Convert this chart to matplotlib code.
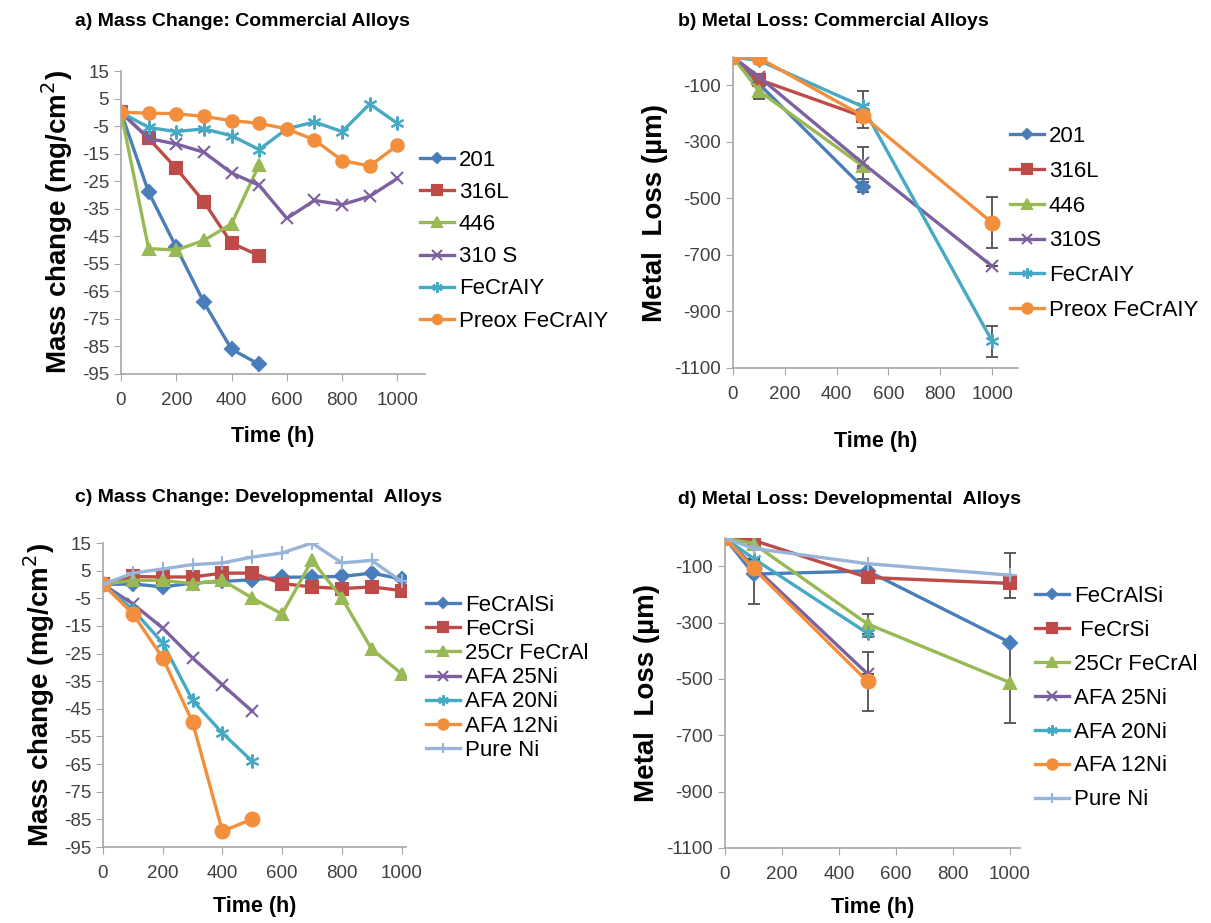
import matplotlib
matplotlib.use('Agg')
import matplotlib.pyplot as plt

plt.rcParams['font.family'] = ['Liberation Sans', 'DejaVu Sans']
plt.rcParams['axes.unicode_minus'] = False

# couleurs style Excel
BLUE = '#4A7EBB'
RED = '#BE4B48'
GREEN = '#98B954'
PURPLE = '#7D60A0'
TEAL = '#46AAC5'
ORANGE = '#F38F3C'
LIGHTBLUE = '#98B4D9'
ASTER = (6, 2, 0)

# a) mass change, commercial alloys
t_a = [0, 100, 200, 300, 400, 500, 600, 700, 800, 900, 1000]
a_201 = [0, -29, -49, -69, -86, -91.5]
a_316L = [0, -9.5, -20.3, -32.5, -47.5, -52]
a_446 = [0, -49.5, -50, -46.5, -40.5, -19]
a_310S = [0, -9.5, -11.5, -14.5, -22, -26.5, -38.5, -32, -33.5, -30.5, -24]
a_fecraly = [0, -5.5, -7, -6, -8.5, -13.5, -6, -3.5, -7, 3, -4]
a_preox = [0, -0.3, -0.5, -1.5, -3, -4, -6, -10, -17.5, -19.5, -12]

# b) metal loss, commercial alloys
t_b = [0, 100, 500, 1000]
b_201 = [0, -95, -460]
b_316L = [0, -80, -210]
b_446 = [0, -120, -385]
b_310S = [0, -70, -375, -740]
b_fecraly = [0, -12, -175, -1005]
b_preox = [0, -3, -208, -586]
b_201_err = [0, 0, 18]
b_316L_err = [0, 0, 40]
b_446_err = [0, 30, 0]
b_310S_err = [0, 0, 55, 0]
b_fecraly_err = [0, 0, 55, 55]
b_preox_err = [0, 0, 0, 90]

# c) mass change, developmental alloys
t_c = [0, 100, 200, 300, 400, 500, 600, 700, 800, 900, 1000]
c_fecralsi = [0, 0.2, -0.9, 0.5, 1.1, 1.7, 2.6, 2.7, 2.9, 4.1, 2]
c_fecrsi = [0, 2.9, 2.7, 2.7, 4.1, 4.1, 0.3, -0.9, -1.5, -0.9, -2.2]
c_25cr = [0, 1.5, 1.5, 0.3, 1.5, -4.9, -10.7, 8.7, -4.9, -23.4, -32.3]
c_afa25 = [0, -7, -15.8, -26.6, -36.3, -45.9]
c_afa20 = [0, -9.1, -21.2, -41.9, -53.8, -64]
c_afa12 = [0, -10.6, -26.6, -49.8, -89.3, -84.9]
c_pureni = [0, 4.1, 5.6, 7.2, 7.8, 9.9, 11.4, 15, 7.8, 8.7, 1.1]

# d) metal loss, developmental alloys
t_d = [0, 100, 500, 1000]
d_fecralsi = [0, -128, -117, -371]
d_fecrsi = [0, -8, -140, -161]
d_25cr = [0, -20, -305, -513]
d_afa25 = [0, -100, -482]
d_afa20 = [0, -73, -338]
d_afa12 = [0, -108, -509]
d_pureni = [0, -37, -91, -132]
d_fecralsi_err = [0, 105, 25, 0]
d_fecrsi_err = [0, 0, 0, 0]
d_25cr_err = [0, 0, 34, 145]
d_afa25_err = [0, 0, 0]
d_afa20_err = [0, 0, 12]
d_afa12_err = [0, 0, 104]
d_pureni_err = [0, 0, 0, 80]


def style_axis(ax, xlim, ylim, yticks):
    ax.set_xlim(*xlim)
    ax.set_ylim(*ylim)
    ax.set_xticks([0, 200, 400, 600, 800, 1000])
    ax.set_yticks(yticks)
    for s in ['top', 'right']:
        ax.spines[s].set_visible(False)
    for s in ['left', 'bottom']:
        ax.spines[s].set_color('#A6A6A6')
        ax.spines[s].set_linewidth(1.2)
    ax.tick_params(direction='out', length=5, color='#A6A6A6',
                   labelsize=13.5, labelcolor='#404040')
    ax.tick_params(axis='x', pad=8)
    ax.patch.set_alpha(0)


def series(ax, t, y, color, marker, label, err=None, ms=8, mew=1.5):
    n = len(y)
    if err is not None:
        ax.errorbar(t[:n], y, yerr=err, fmt='none', ecolor='#505050',
                    elinewidth=1.3, capsize=4, capthick=1.3, zorder=1)
    ax.plot(t[:n], y, color=color, lw=2.4, marker=marker, ms=ms,
            mec=color, mfc=color, mew=mew, label=label, zorder=2)


def add_legend(ax, x, y, spacing):
    ax.legend(loc='upper left', bbox_to_anchor=(x / 1211, 1 - y / 923),
              bbox_transform=fig.transFigure, frameon=False, fontsize=16,
              handlelength=1.55, handletextpad=0.2, labelspacing=spacing,
              borderaxespad=0, borderpad=0, markerscale=0.75)


fig = plt.figure(figsize=(12.11, 9.23), dpi=100)

# ---- a ----
ax = fig.add_axes([121 / 1211, 1 - 374 / 923, 304 / 1211, 303 / 923])
series(ax, t_a, a_201, BLUE, 'D', '201', ms=7)
series(ax, t_a, a_316L, RED, 's', '316L', ms=9)
series(ax, t_a, a_446, GREEN, '^', '446', ms=9)
series(ax, t_a, a_310S, PURPLE, 'x', '310 S', ms=9)
series(ax, t_a, a_fecraly, TEAL, ASTER, 'FeCrAIY', ms=10)
series(ax, t_a, a_preox, ORANGE, 'o', 'Preox FeCrAIY', ms=9)
style_axis(ax, (0, 1100), (-95, 15), list(range(15, -96, -10)))
ax.set_xlabel('Time (h)', fontsize=15.5, fontweight='bold', labelpad=12)
ax.set_ylabel('Mass change (mg/cm$^2$)', fontsize=20, fontweight='bold', labelpad=5)
add_legend(ax, 420, 150, 0.5)

# ---- b ----
ax = fig.add_axes([733 / 1211, 1 - 368 / 923, 285 / 1211, 311 / 923])
series(ax, t_b, b_201, BLUE, 'D', '201', b_201_err, ms=7)
series(ax, t_b, b_316L, RED, 's', '316L', b_316L_err, ms=9)
series(ax, t_b, b_446, GREEN, '^', '446', b_446_err, ms=9)
series(ax, t_b, b_310S, PURPLE, 'x', '310S', b_310S_err, ms=9)
series(ax, t_b, b_fecraly, TEAL, ASTER, 'FeCrAIY', b_fecraly_err, ms=10)
series(ax, t_b, b_preox, ORANGE, 'o', 'Preox FeCrAIY', b_preox_err, ms=10)
style_axis(ax, (0, 1100), (-1100, 0), list(range(-1100, 0, 200)))
ax.set_xlabel('Time (h)', fontsize=15.5, fontweight='bold', labelpad=20)
ax.set_ylabel('Metal  Loss (\u00b5m)', fontsize=20, fontweight='bold', labelpad=5)
add_legend(ax, 1010, 126, 0.62)

# ---- c ----
ax = fig.add_axes([103 / 1211, 1 - 847 / 923, 303 / 1211, 304 / 923])
series(ax, t_c, c_fecralsi, BLUE, 'D', 'FeCrAlSi', ms=7)
series(ax, t_c, c_fecrsi, RED, 's', 'FeCrSi', ms=9)
series(ax, t_c, c_25cr, GREEN, '^', '25Cr FeCrAl', ms=9)
series(ax, t_c, c_afa25, PURPLE, 'x', 'AFA 25Ni', ms=9)
series(ax, t_c, c_afa20, TEAL, ASTER, 'AFA 20Ni', ms=10)
series(ax, t_c, c_afa12, ORANGE, 'o', 'AFA 12Ni', ms=10)
series(ax, t_c, c_pureni, LIGHTBLUE, '+', 'Pure Ni', ms=10)
style_axis(ax, (0, 1015), (-95, 15), list(range(15, -96, -10)))
ax.set_xlabel('Time (h)', fontsize=15.5, fontweight='bold', labelpad=10)
ax.set_ylabel('Mass change (mg/cm$^2$)', fontsize=20, fontweight='bold', labelpad=5)
add_legend(ax, 426, 595, 0.14)

# ---- d ----
ax = fig.add_axes([725 / 1211, 1 - 848 / 923, 295 / 1211, 310 / 923])
series(ax, t_d, d_fecralsi, BLUE, 'D', 'FeCrAlSi', d_fecralsi_err, ms=7)
series(ax, t_d, d_fecrsi, RED, 's', ' FeCrSi', d_fecrsi_err, ms=9)
series(ax, t_d, d_25cr, GREEN, '^', '25Cr FeCrAl', d_25cr_err, ms=9)
series(ax, t_d, d_afa25, PURPLE, 'x', 'AFA 25Ni', d_afa25_err, ms=9)
series(ax, t_d, d_afa20, TEAL, ASTER, 'AFA 20Ni', d_afa20_err, ms=10)
series(ax, t_d, d_afa12, ORANGE, 'o', 'AFA 12Ni', d_afa12_err, ms=10)
series(ax, t_d, d_pureni, LIGHTBLUE, '+', 'Pure Ni', d_pureni_err, ms=10)
style_axis(ax, (0, 1035), (-1100, 0), list(range(-1100, 0, 200)))
ax.set_xlabel('Time (h)', fontsize=15.5, fontweight='bold', labelpad=10)
ax.set_ylabel('Metal  Loss (\u00b5m)', fontsize=20, fontweight='bold', labelpad=5)
add_legend(ax, 1035, 586, 0.58)

# titres
titles = ['a) Mass Change: Commercial Alloys', 'b) Metal Loss: Commercial Alloys',
          'c) Mass Change: Developmental  Alloys', 'd) Metal Loss: Developmental  Alloys']
pos = [(75, 22), (678, 22), (75, 497), (678, 500)]
for txt, (x, y) in zip(titles, pos):
    fig.text(x / 1211, 1 - y / 923, txt, fontsize=14, fontweight='bold',
             ha='left', va='center')

fig.savefig('out.png', dpi=100)
